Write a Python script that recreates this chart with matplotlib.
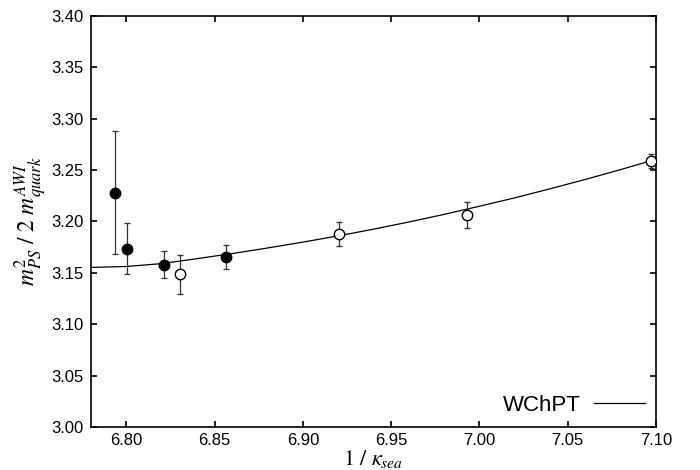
import matplotlib

matplotlib.use("Agg")

import matplotlib.pyplot as plt

# data
FILLED_X = [6.7934, 6.8004, 6.8213, 6.8564]
FILLED_Y = [3.228, 3.1735, 3.158, 3.1655]
FILLED_ERR = [0.060, 0.025, 0.0128, 0.0118]

OPEN_X = [6.8306, 6.9206, 6.9932, 7.0970]
OPEN_Y = [3.1486, 3.1878, 3.2060, 3.2589]
OPEN_ERR = [0.019, 0.0114, 0.0125, 0.0065]

# WChPT fit curve
FIT_X = [6.78, 6.80, 6.82, 6.84, 6.86, 6.88, 6.90, 6.92, 6.94, 6.96,
         6.98, 7.00, 7.02, 7.04, 7.06, 7.08, 7.097]
FIT_Y = [3.1553, 3.1562, 3.1590, 3.1638, 3.1688, 3.1742, 3.1799, 3.1860,
         3.1925, 3.1995, 3.2069, 3.2148, 3.2230, 3.2318, 3.2409, 3.2505, 3.2590]

X_TICKS = [6.80, 6.85, 6.90, 6.95, 7.00, 7.05, 7.10]
Y_TICKS = [3.00, 3.05, 3.10, 3.15, 3.20, 3.25, 3.30, 3.35, 3.40]

plt.rcParams.update({
    "font.family": ["Liberation Sans", "DejaVu Sans"],
    "mathtext.fontset": "stix",
})

fig = plt.figure(figsize=(7.0, 4.7), dpi=100, facecolor="white")
ax = fig.add_axes([0.130, 0.0915, 0.807, 0.8745])

ax.plot(FIT_X, FIT_Y, color="black", linewidth=0.9, label="WChPT", zorder=2)

ax.errorbar(OPEN_X, OPEN_Y, yerr=OPEN_ERR, fmt="o", markersize=7.5,
            markerfacecolor="white", markeredgecolor="black", markeredgewidth=1.0,
            ecolor="#333333", elinewidth=0.9, capsize=2.2, capthick=0.9, zorder=3)
ax.errorbar(FILLED_X, FILLED_Y, yerr=FILLED_ERR, fmt="o", markersize=7.5,
            markerfacecolor="black", markeredgecolor="black",
            ecolor="#333333", elinewidth=0.9, capsize=2.2, capthick=0.9, zorder=3)

ax.set_xlim(6.78, 7.10)
ax.set_ylim(3.00, 3.40)
ax.set_xticks(X_TICKS)
ax.set_yticks(Y_TICKS)
ax.set_xticklabels([f"{v:.2f}" for v in X_TICKS])
ax.set_yticklabels([f"{v:.2f}" for v in Y_TICKS])
ax.tick_params(direction="in", length=4.5, width=1.2, top=True, right=True,
               labelsize=12, pad=5)
ax.tick_params(axis="x", pad=4)
for spine in ax.spines.values():
    spine.set_linewidth(1.2)

ax.set_xlabel(r"$1\ /\ \kappa_{sea}$", fontsize=16, labelpad=0)
ax.set_ylabel(r"$m_{PS}^{2}\ /\ 2\ m_{quark}^{AWI}$", fontsize=17, labelpad=2)

ax.legend(loc="lower right", frameon=False, fontsize=16, markerfirst=False,
          handlelength=2.3, handletextpad=0.6, borderaxespad=0.1)

fig.savefig("out.png", dpi=100, facecolor="white")
